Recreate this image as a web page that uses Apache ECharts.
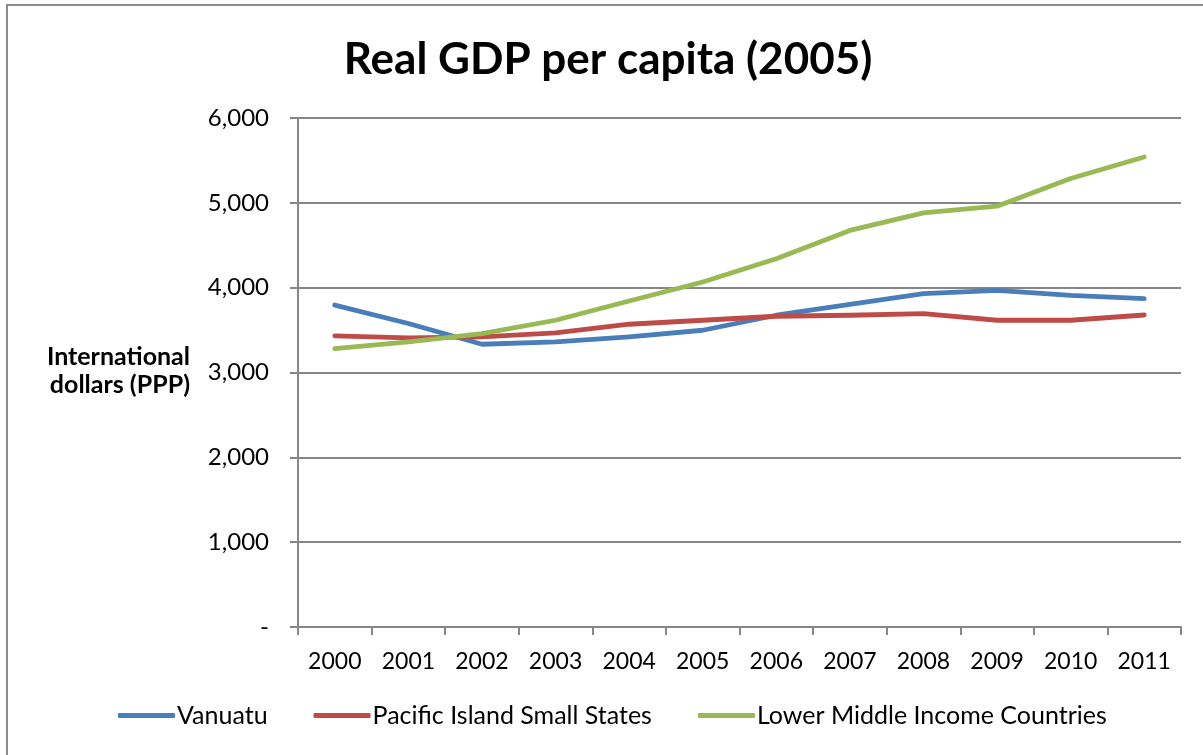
<!DOCTYPE html>
<html>
<head>
<meta charset="utf-8">
<style>
  html, body { margin: 0; padding: 0; background: #fff; }
  #chart { width: 1203px; height: 755px; }
</style>
<script src="https://cdn.jsdelivr.net/npm/echarts@6/dist/echarts.min.js"></script>
</head>
<body>
<div id="chart"></div>
<script>
// Real GDP per capita, constant 2005 international dollars (PPP)
const years = ['2000', '2001', '2002', '2003', '2004', '2005', '2006', '2007', '2008', '2009', '2010', '2011'];
const vanuatu = [3795, 3578, 3333, 3361, 3420, 3498, 3675, 3804, 3929, 3969, 3910, 3871];
const pacificIslandSmallStates = [3431, 3408, 3420, 3467, 3569, 3616, 3663, 3675, 3694, 3616, 3616, 3678];
const lowerMiddleIncome = [3282, 3361, 3459, 3616, 3843, 4067, 4341, 4675, 4882, 4961, 5286, 5541];
const seriesNames = ['Vanuatu', 'Pacific Island Small States', 'Lower Middle Income Countries'];
const colors = ['#4A7EBB', '#BE4B48', '#98B954'];

const font = 'Lato, "Open Sans", sans-serif';
const chart = echarts.init(document.getElementById('chart'), null, { renderer: 'canvas' });

const makeLine = (name, data, color) => ({
  name, type: 'line', data,
  symbol: 'none', smooth: false,
  lineStyle: { color, width: 4.8, cap: 'round', join: 'round' },
  itemStyle: { color }
});

chart.setOption({
  animation: false,
  backgroundColor: '#fff',
  color: colors,
  title: {
    text: 'Real GDP per capita (2005)',
    left: 603, top: 33, textAlign: 'center',
    textStyle: { fontFamily: font, fontWeight: 'bold', fontSize: 44, color: '#000' }
  },
  graphic: [
    {
      type: 'rect', silent: true,
      shape: { x: 7, y: 5, width: 1220, height: 800 },
      style: { fill: 'none', stroke: '#8c8c8c', lineWidth: 2 }
    },
    {
      type: 'text', silent: true,
      x: 190, y: 343,
      style: {
        text: 'International\ndollars (PPP)',
        align: 'right',
        font: 'bold 25px ' + font,
        fill: '#000',
        lineHeight: 28
      }
    }
  ],
  legend: {
    bottom: 22, left: 113,
    data: seriesNames,
    icon: 'roundRect',
    itemWidth: 57, itemHeight: 5,
    itemGap: 46,
    textStyle: { fontFamily: font, fontSize: 25, color: '#000', padding: [0, 0, 0, -3] }
  },
  grid: { left: 298, right: 22, top: 118, bottom: 128, containLabel: false },
  xAxis: {
    type: 'category',
    data: years,
    boundaryGap: true,
    axisLine: { lineStyle: { color: '#868686', width: 2 } },
    axisTick: { show: true, alignWithLabel: false, length: 8, lineStyle: { color: '#868686', width: 2 } },
    axisLabel: { fontFamily: font, fontSize: 23, color: '#000', margin: 23 }
  },
  yAxis: {
    type: 'value',
    min: 0, max: 6000, interval: 1000,
    axisLine: { show: true, lineStyle: { color: '#868686', width: 2 } },
    axisTick: { show: true, length: 8, lineStyle: { color: '#868686', width: 2 } },
    splitLine: { lineStyle: { color: '#868686', width: 2 } },
    axisLabel: {
      fontFamily: font, fontSize: 24, color: '#000', margin: 29,
      formatter: v => v === 0 ? '-' : v.toLocaleString('en-US')
    }
  },
  series: [
    makeLine(seriesNames[0], vanuatu, colors[0]),
    makeLine(seriesNames[1], pacificIslandSmallStates, colors[1]),
    makeLine(seriesNames[2], lowerMiddleIncome, colors[2])
  ]
});
</script>
</body>
</html>
